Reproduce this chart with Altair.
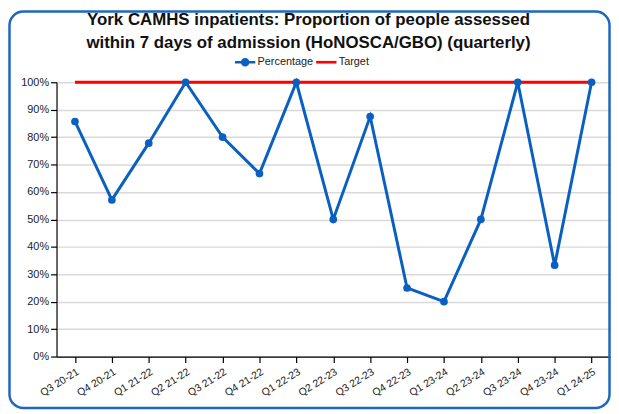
import altair as alt
import pandas as pd

quarters = ["Q3 20-21", "Q4 20-21", "Q1 21-22", "Q2 21-22", "Q3 21-22", "Q4 21-22",
            "Q1 22-23", "Q2 22-23", "Q3 22-23", "Q4 22-23", "Q1 23-24", "Q2 23-24",
            "Q3 23-24", "Q4 23-24", "Q1 24-25"]
percentage = [0.857, 0.571, 0.778, 1.0, 0.80, 0.667, 1.0, 0.50, 0.875, 0.25, 0.20, 0.50,
              1.0, 0.333, 1.0]
target = [1.0] * len(quarters)

BLUE = "#0A60C0"
RED = "#FF0000"

rows = []
for q, p, t in zip(quarters, percentage, target):
    rows.append({"Quarter": q, "Series": "Percentage", "Value": p})
    rows.append({"Quarter": q, "Series": "Target", "Value": t})
df = pd.DataFrame(rows)

x = alt.X("Quarter:N", sort=quarters, title=None,
          scale=alt.Scale(padding=0.5),
          axis=alt.Axis(labelAngle=-32, labelAlign="right", labelBaseline="top",
                        labelFontSize=10.5, labelColor="#222", labelPadding=4,
                        tickColor="#000", tickSize=6, domainColor="#000",
                        grid=False, labelFont="Liberation Sans"))
y = alt.Y("Value:Q", title=None,
          scale=alt.Scale(domain=[0, 1]),
          axis=alt.Axis(format="%", values=[i / 10 for i in range(11)],
                        labelFontSize=11, labelColor="#222", labelFont="Liberation Sans",
                        tickColor="#000", tickSize=6, domainColor="#000",
                        gridColor="#D9D9D9", gridWidth=1.5))

pct_path = "M-1,-0.13H1V0.13H-1Z M0.42,0A0.42,0.42 0 1,1 -0.42,0A0.42,0.42 0 1,1 0.42,0Z"
tgt_path = "M-1,-0.13H1V0.13H-1Z"

legend = alt.Legend(
    title=None, orient="none", direction="horizontal", legendX=180, legendY=-31,
    labelFontSize=11, labelColor="#222", labelFont="Liberation Sans",
    symbolSize=420, columnPadding=2, labelOffset=2, symbolOpacity=1,
    symbolStrokeWidth=0,
)

base = alt.Chart(df).encode(x=x, y=y)

blue_line = base.transform_filter("datum.Series === 'Percentage'").mark_line(
    strokeWidth=3, color=BLUE)
red_line = base.transform_filter("datum.Series === 'Target'").mark_line(
    strokeWidth=3, color=RED)
points = base.transform_filter("datum.Series === 'Percentage'").mark_circle(
    size=60, color=BLUE, opacity=1)

legend_layer = base.transform_filter("false").mark_point(filled=True, opacity=1).encode(
    color=alt.Color("Series:N", scale=alt.Scale(domain=["Percentage", "Target"], range=[BLUE, RED]),
                    legend=legend),
    shape=alt.Shape("Series:N", scale=alt.Scale(domain=["Percentage", "Target"],
                                                range=[pct_path, tgt_path]),
                    legend=legend),
)

frame = alt.Chart(pd.DataFrame({"a": [0]})).mark_rect(
    fill=None, stroke="#1F66C1", strokeWidth=2.5, cornerRadius=14, clip=False
).encode(x=alt.value(-47.5), x2=alt.value(558.5), y=alt.value(-71.5), y2=alt.value(329))

chart = alt.layer(blue_line, red_line, points, legend_layer, frame).properties(
    width=559, height=277,
    title=alt.TitleParams(
        ["York CAMHS inpatients: Proportion of people assessed",
         "within 7 days of admission (HoNOSCA/GBO) (quarterly)"],
        fontSize=17, font="Liberation Sans", fontWeight="bold", color="#111",
        anchor="middle", dx=-25, offset=-42, lineHeight=23),
    autosize=alt.AutoSizeParams(type="none"),
    padding={"left": 49, "top": 73, "right": 1, "bottom": 54},
).configure_view(stroke=None).configure_axis(domainWidth=1.2, tickWidth=1.2)

chart.save("out.html", embed_options={"renderer": "svg", "actions": False})
